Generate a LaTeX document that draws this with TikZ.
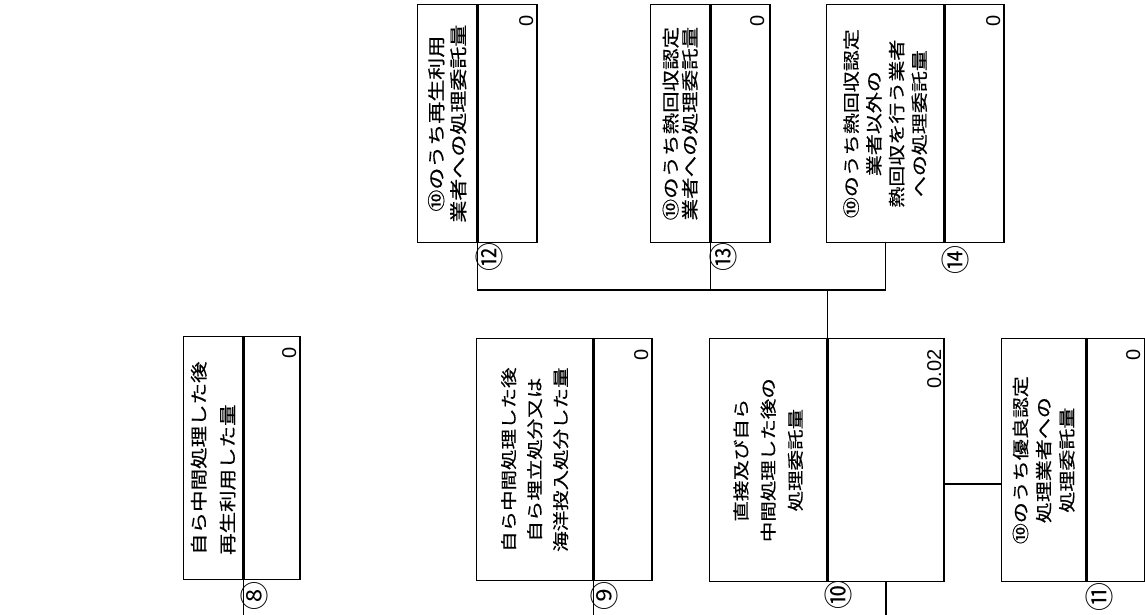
\documentclass[tikz,border=0pt]{standalone}
\usepackage{fontspec}
\usepackage{graphicx}
\setmainfont{Noto Sans CJK JP}[FakeBold=0.4]
\newfontfamily\circfont{Noto Sans CJK JP}
\newfontfamily\numfont{Liberation Sans}
\newcommand\rtextc[3]{\rotatebox{90}{\scalebox{1}[0.8]{\fontsize{#1}{#2}\selectfont\vbox{\lineskiplimit=-\maxdimen\lineskip=0pt\halign{\hfil##\hfil\cr#3\crcr}}}}}
\newcommand\rtextl[3]{\rotatebox{90}{\scalebox{1}[0.8]{\fontsize{#1}{#2}\selectfont\vbox{\lineskiplimit=-\maxdimen\lineskip=0pt\halign{##\hfil\cr#3\crcr}}}}}
\begin{document}
\begin{tikzpicture}[x=1pt,y=-1pt,
  box/.style={draw, line width=1.3pt, inner sep=0pt, anchor=north west},
  conn/.style={line width=1.3pt},
  num/.style={rotate=90, inner sep=0pt, anchor=south east, font=\numfont\fontsize{20}{20}\selectfont},
  circ/.style={rotate=90, inner sep=0pt, font=\circfont\fontsize{29}{29}\selectfont}]
\useasboundingbox[fill=white] (0,0) rectangle (1145,615);
\coordinate (bot) at (0,622);
\coordinate (bus) at (0,290);
\coordinate (lvl11) at (0,484);
% row 2
\node[box, minimum width=59pt, minimum height=243pt] (t8) at (183,336) {\rtextl{21.5}{36}{自ら中間処理した後\cr 再生利用した量}};
\node[box, minimum width=56pt, minimum height=243pt] (v8) at (t8.north east) {};
\node[box, minimum width=116pt, minimum height=242pt] (t9) at (476,338) {\rtextc{20.5}{32.5}{自ら中間処理した後\cr 自ら埋立処分又は\cr 海洋投入処分した量}};
\node[box, minimum width=58pt, minimum height=242pt] (v9) at (t9.north east) {};
\node[box, minimum width=117pt, minimum height=243pt] (t10) at (709,338) {\rtextc{20.5}{34}{直接及び自ら\cr 中間処理した後の\cr 処理委託量}};
\node[box, minimum width=116pt, minimum height=243pt] (v10) at (t10.north east) {};
\node[box, minimum width=84pt, minimum height=243pt] (t11) at (1001,338) {\rtextc{21}{29}{⑩のうち優良認定\cr 処理業者への\cr 処理委託量}};
\node[box, minimum width=58pt, minimum height=243pt] (v11) at (t11.north east) {};
% row 1
\node[box, minimum width=59pt, minimum height=238pt] (t12) at (417,4) {\rtextc{22}{27.5}{⑩のうち再生利用\cr 業者への処理委託量}};
\node[box, minimum width=59pt, minimum height=238pt] (v12) at (t12.north east) {};
\node[box, minimum width=59pt, minimum height=238pt] (t13) at (650,4) {\rtextc{21.5}{24}{⑩のうち熱回収認定\cr 業者への処理委託量}};
\node[box, minimum width=59pt, minimum height=238pt] (v13) at (t13.north east) {};
\node[box, minimum width=117pt, minimum height=238pt] (t14) at (826,4) {\rtextc{21}{28.4}{⑩のうち熱回収認定\cr 業者以外の\cr 熱回収を行う業者\cr への処理委託量}};
\node[box, minimum width=59pt, minimum height=238pt] (v14) at (t14.north east) {};
% values
\node[num] (n8) at ([xshift=-4pt,yshift=-11pt]v8.north east) {0};
\node[num] (n9) at ([xshift=-4pt,yshift=-11pt]v9.north east) {0};
\node[num] (n10) at ([xshift=-3pt,yshift=-11pt]v10.north east) {0.02};
\node[num] (n11) at ([xshift=-5pt,yshift=-11pt]v11.north east) {0};
\node[num] (n12) at ([xshift=-4pt,yshift=-11pt]v12.north east) {0};
\node[num] (n13) at ([xshift=-6pt,yshift=-11pt]v13.north east) {0};
\node[num] (n14) at ([xshift=-4pt,yshift=-11pt]v14.north east) {0};
% circled numbers
\node[circ] (c8) at (254,596) {⑧};
\node[circ] (c9) at (604,596) {⑨};
\node[circ] (c10) at (838,595) {⑩};
\node[circ] (c11) at (1099,597) {⑪};
\node[circ] (c12) at (489,257) {⑫};
\node[circ] (c13) at (723,257) {⑬};
\node[circ] (c14) at (955,260) {⑭};
% connectors
\draw[conn] (t8.south east) -- (t8.south east |- bot);
\draw[conn] (t9.south east) -- (t9.south east |- bot);
\draw[conn] (v10.south) -- (v10.south |- bot);
\draw[conn] (v10.east |- lvl11) -- (t11.west |- lvl11);
\draw[conn] (t12.south east) |- (t14.south |- bus) -- (t14.south);
\draw[conn] (t13.south east) -- (t13.south east |- bus);
\draw[conn] (t10.north east) -- (t10.north east |- bus);
\end{tikzpicture}
\end{document}
